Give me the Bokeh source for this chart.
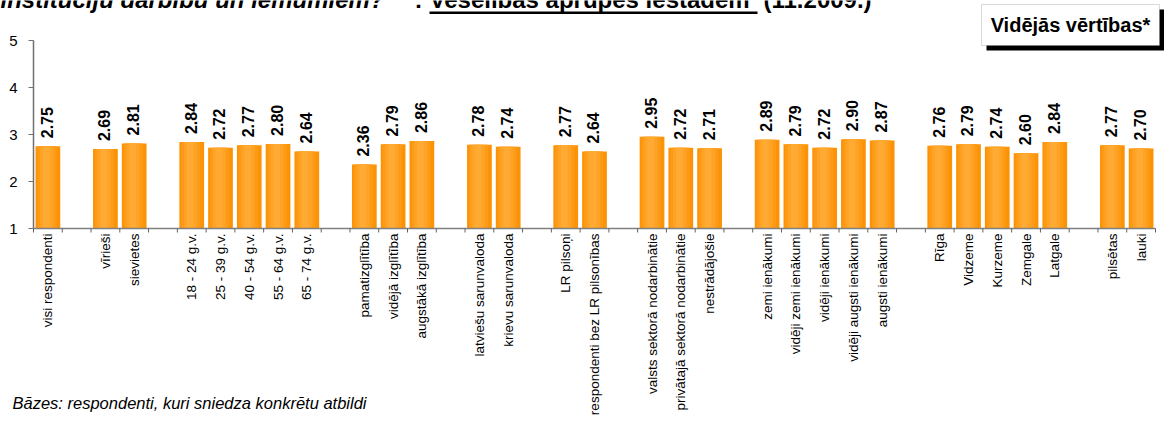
import math
from bokeh.plotting import figure
from bokeh.models import Range1d, ColumnDataSource, LabelSet, Label, BoxAnnotation
from bokeh.core.properties import value
from bokeh.embed import file_html
from bokeh.resources import INLINE

categories = [
    "visi respondenti",
    "vīrieši", "sievietes",
    "18 - 24 g.v.", "25 - 39 g.v.", "40 - 54 g.v.", "55 - 64 g.v.", "65 - 74 g.v.",
    "pamatizglītība", "vidējā izglītība", "augstākā izglītība",
    "latviešu sarunvaloda", "krievu sarunvaloda",
    "LR pilsoņi", "respondenti bez LR pilsonības",
    "valsts sektorā nodarbinātie", "privātajā sektorā nodarbinātie", "nestrādājošie",
    "zemi ienākumi", "vidēji zemi ienākumi", "vidēji ienākumi", "vidēji augsti ienākumi", "augsti ienākumi",
    "Rīga", "Vidzeme", "Kurzeme", "Zemgale", "Latgale",
    "pilsētas", "lauki",
]
values = [
    2.75,
    2.69, 2.81,
    2.84, 2.72, 2.77, 2.80, 2.64,
    2.36, 2.79, 2.86,
    2.78, 2.74,
    2.77, 2.64,
    2.95, 2.72, 2.71,
    2.89, 2.79, 2.72, 2.90, 2.87,
    2.76, 2.79, 2.74, 2.60, 2.84,
    2.77, 2.70,
]
group_sizes = [1, 2, 5, 3, 2, 2, 3, 5, 5, 2]
y_ticks = [1, 2, 3, 4, 5]

title_part1 = "institūciju darbību un lēmumiem?\""
title_part2 = ":"
title_part3 = "Veselības aprūpes iestādēm"
title_part4 = "(11.2009.)"
box_text = "Vidējās vērtības*"
footnote = "Bāzes: respondenti, kuri sniedza konkrētu atbildi"

# slot positions (one empty slot between groups)
xs = []
slot = 0
for g in group_sizes:
    for _ in range(g):
        xs.append(slot + 0.5)
        slot += 1
    slot += 1
n_slots = slot - 1

W, H = 1164, 423
# plot area in pixels
FL, FR, FT, FB = 33, 1155, 40, 228
ymin, ymax = min(y_ticks), max(y_ticks)
PX = (FR - FL) / n_slots
PY = (FB - FT) / (ymax - ymin)

x_range = Range1d(-FL / PX, n_slots + (W - FR) / PX)
y_range = Range1d(ymin - (H - FB) / PY, ymax + FT / PY)

def sx(X):
    return X

def sy(Y):
    return H - Y

FONT = "Liberation Sans"

p = figure(width=W, height=H, x_range=x_range, y_range=y_range,
           x_axis_type=None, y_axis_type=None,
           output_backend="svg", toolbar_location=None,
           min_border=0, min_border_left=0, min_border_right=0, min_border_top=0, min_border_bottom=0)
p.outline_line_color = None
p.xgrid.visible = False
p.ygrid.visible = False
p.background_fill_color = "white"
p.border_fill_color = "white"

src = ColumnDataSource(dict(x=xs, top=values, cat=categories, lab=["%.2f" % v for v in values]))

# bars with a horizontal orange gradient imitation
layers = [(0.86, "#FC9307", 0.0), (0.66, "#FD9B17", -0.03), (0.46, "#FEA326", -0.04), (0.24, "#FFAA32", -0.05)]
for w, c, off in layers:
    p.vbar(x=[x + off for x in xs], top=values, bottom=ymin, width=w, fill_color=c, line_color=None)

# y axis: line, ticks, labels
p.segment(x0=[0], y0=[ymin], x1=[0], y1=[ymax], line_color="#707070", line_width=1.5)
p.segment(x0=[0] * len(y_ticks), y0=y_ticks, x1=[-5 / PX] * len(y_ticks), y1=y_ticks,
          line_color="#707070", line_width=1)
tsrc = ColumnDataSource(dict(x=[0] * len(y_ticks), y=y_ticks, t=[str(t) for t in y_ticks]))
p.add_layout(LabelSet(x="x", y="y", text="t", source=tsrc, x_offset=-16,
                      text_align="right", text_baseline="middle",
                      text_font=value(FONT), text_font_size="15px", text_color="black"))

# x axis: line and slot-boundary ticks
bounds = list(range(n_slots + 1))
p.segment(x0=[0], y0=[ymin], x1=[n_slots], y1=[ymin], line_color="#808080", line_width=1.5)
p.segment(x0=bounds, y0=[ymin] * len(bounds), x1=bounds, y1=[ymin - 4 / PY] * len(bounds),
          line_color="#606060", line_width=1)

# value labels
p.add_layout(LabelSet(x="x", y="top", text="lab", source=src, angle=math.pi / 2,
                      text_align="left", text_baseline="middle", y_offset=8, x_offset=-1,
                      text_font=value(FONT), text_font_size="16px", text_font_style="bold",
                      text_color="black"))
# category labels
p.add_layout(LabelSet(x="x", y=ymin, text="cat", source=src, angle=math.pi / 2,
                      text_align="right", text_baseline="middle", y_offset=-5,
                      text_font=value(FONT), text_font_size="13.5px", text_color="black"))

# title (cut off at the top like the reference)
for txt, X, style in [(title_part1, 0, "bold italic"), (title_part2, 414, "bold"),
                      (title_part3, 429, "bold"), (title_part4, 763, "bold")]:
    p.add_layout(Label(x=sx(X), y=sy(-1), x_units="screen", y_units="screen", text=txt,
                       text_font=FONT, text_font_size="24px", text_font_style=style,
                       text_baseline="alphabetic", text_align="left", text_color="black"))
p.add_layout(BoxAnnotation(left=sx(429), right=sx(757), top=sy(11), bottom=sy(13.5),
                           left_units="screen", right_units="screen", top_units="screen", bottom_units="screen",
                           fill_color="black", fill_alpha=1, line_color=None))

# boxed note with shadow
p.add_layout(BoxAnnotation(left=sx(986), right=sx(1164), top=sy(9), bottom=sy(50),
                           left_units="screen", right_units="screen", top_units="screen", bottom_units="screen",
                           fill_color="black", fill_alpha=1, line_color=None))
p.add_layout(BoxAnnotation(left=sx(981), right=sx(1159), top=sy(4), bottom=sy(45),
                           left_units="screen", right_units="screen", top_units="screen", bottom_units="screen",
                           fill_color="white", fill_alpha=1, line_color="#808080", line_width=1))
p.add_layout(Label(x=sx(1070), y=sy(24), x_units="screen", y_units="screen", text=box_text,
                   text_font=FONT, text_font_size="20px", text_font_style="bold",
                   text_align="center", text_baseline="middle", text_color="black"))

# footnote
p.add_layout(Label(x=sx(12), y=sy(402), x_units="screen", y_units="screen", text=footnote,
                   text_font=FONT, text_font_size="16.5px", text_font_style="italic",
                   text_baseline="alphabetic", text_align="left", text_color="black"))

open("out.html", "w").write(file_html(p, INLINE))
